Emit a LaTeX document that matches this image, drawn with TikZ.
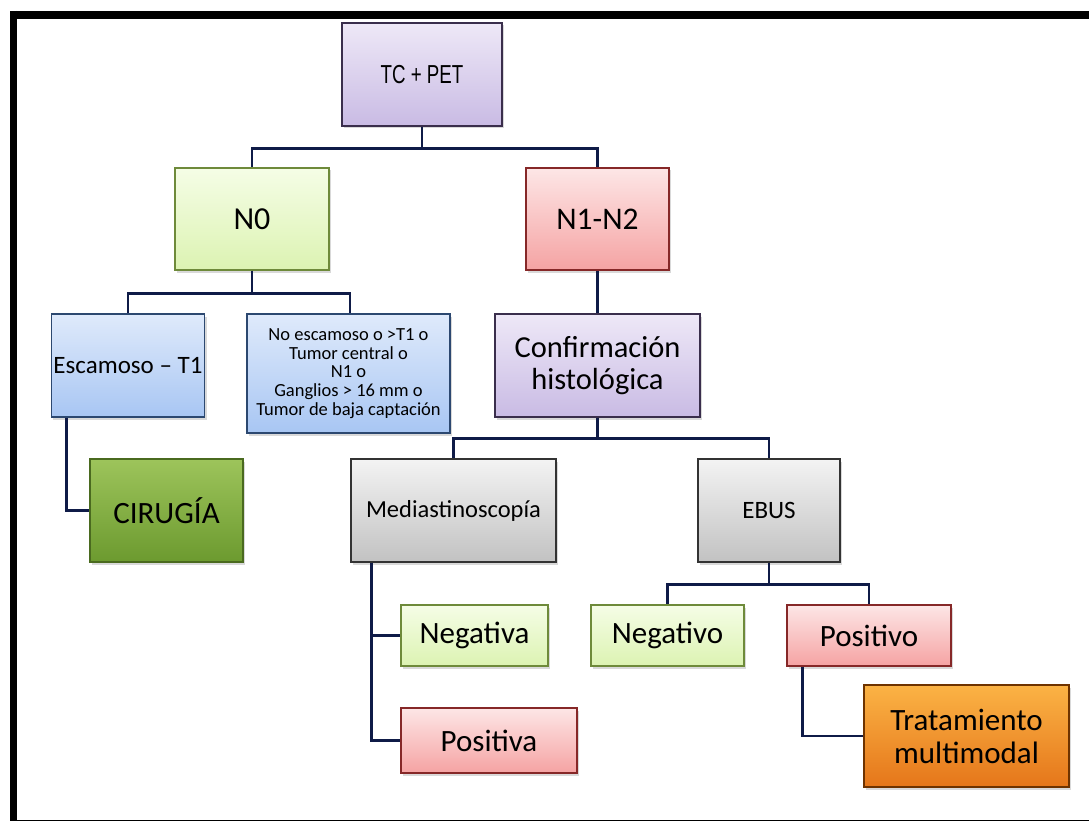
\documentclass[tikz,border=0pt]{standalone}
\usepackage{fontspec}
\setmainfont{Carlito}
\newfontfamily\narrowfont{Liberation Sans}
\usetikzlibrary{shadows}

\definecolor{linkblue}{HTML}{0F1B47}
\definecolor{lilatop}{HTML}{EEE8F7}
\definecolor{lilabot}{HTML}{C9BBE4}
\definecolor{lilaline}{HTML}{3A2E4C}
\definecolor{verdetop}{HTML}{F5FDE6}
\definecolor{verdebot}{HTML}{DCF3B2}
\definecolor{verdeline}{HTML}{6E8A3A}
\definecolor{rojotop}{HTML}{FDE6E6}
\definecolor{rojobot}{HTML}{F5A3A3}
\definecolor{rojoline}{HTML}{862828}
\definecolor{azultop}{HTML}{DFEAFB}
\definecolor{azulbot}{HTML}{A8C6F3}
\definecolor{azulline}{HTML}{2C4870}
\definecolor{cirtop}{HTML}{9DC45B}
\definecolor{cirbot}{HTML}{6C9A2F}
\definecolor{cirline}{HTML}{4A6A1F}
\definecolor{gristop}{HTML}{F3F3F3}
\definecolor{grisbot}{HTML}{C2C2C2}
\definecolor{grisline}{HTML}{333333}
\definecolor{naranjatop}{HTML}{FBB345}
\definecolor{naranjabot}{HTML}{E5761A}
\definecolor{naranjaline}{HTML}{6E3300}

\tikzset{
	box/.style={line width=1.4pt, inner sep=2pt, align=center, text=black,
		drop shadow={shadow xshift=2pt, shadow yshift=-2.5pt, opacity=0.3}},
	lila/.style={box, draw=lilaline, top color=lilatop, bottom color=lilabot},
	verde/.style={box, draw=verdeline, top color=verdetop, bottom color=verdebot},
	rojo/.style={box, draw=rojoline, top color=rojotop, bottom color=rojobot},
	azul/.style={box, draw=azulline, top color=azultop, bottom color=azulbot},
	cir/.style={box, draw=cirline, top color=cirtop, bottom color=cirbot},
	gris/.style={box, draw=grisline, top color=gristop, bottom color=grisbot},
	naranja/.style={box, draw=naranjaline, top color=naranjatop, bottom color=naranjabot},
	link/.style={draw=linkblue, line width=2.6pt},
}

\begin{document}
\begin{tikzpicture}[x=1pt, y=-1pt]
		\useasboundingbox (0,0) rectangle (1089,821);
		
		% marco
		\draw[line width=8pt] (10,15) -- (1089,15);
		\draw[line width=7.3pt] (13.7,11) -- (13.7,821);
		\draw[line width=1pt] (10,820.5) -- (1089,820.5);
		
		\node (tc) at (422,74.5) [lila, minimum width=160pt, minimum height=103pt] {\narrowfont\fontsize{26}{30}\selectfont\scalebox{0.72}[1]{TC + PET}};
		
		\node (nzero) at (252,219) [verde, minimum width=154pt, minimum height=102pt, font=\fontsize{32}{34}\selectfont] {N0};
		\node (nuno) at (597.5,219) [rojo, minimum width=143pt, minimum height=102pt, font=\fontsize{31.5}{34}\selectfont] {N1-N2};
		
		\node (esc) at (128,365.5) [azul, minimum width=152pt, minimum height=103pt, font=\fontsize{25}{28}\selectfont] {Escamoso -- T1};
		\node (noesc) at (348.5,373.5) [azul, minimum width=203pt, minimum height=119pt, font=\fontsize{18.5}{18.8}\selectfont] {No escamoso o >T1 o\\Tumor central o\\N1 o\\Ganglios > 16 mm o\\Tumor de baja captación};
		\node (conf) at (597.5,365.5) [lila, minimum width=205pt, minimum height=103pt, font=\fontsize{30.5}{31.5}\selectfont] {Confirmación\\histológica};
		
		\node (cir) at (166.5,510.5) [cir, minimum width=153pt, minimum height=103pt, font=\fontsize{31}{33}\selectfont] {CIRUGÍA};
		\node (med) at (453.5,510.5) [gris, minimum width=205pt, minimum height=103pt, font=\fontsize{24.5}{27}\selectfont] {Mediastinoscopía};
		\node (ebus) at (769,510.5) [gris, minimum width=142pt, minimum height=103pt, font=\fontsize{25}{27}\selectfont] {EBUS};
		
		\node (negativa) at (474.5,635.5) [verde, minimum width=147pt, minimum height=61pt, font=\fontsize{31}{33}\selectfont] {Negativa};
		\node (positiva) at (489,740.5) [rojo, minimum width=176pt, minimum height=65pt, font=\fontsize{31}{33}\selectfont] {Positiva};
		\node (negativo) at (667.5,635.5) [verde, minimum width=153pt, minimum height=61pt, font=\fontsize{31}{33}\selectfont] {Negativo};
		\node (positivo) at (869,635.5) [rojo, minimum width=164pt, minimum height=61pt, font=\fontsize{31}{33}\selectfont] {Positivo};
		\node (trat) at (966.5,736) [naranja, minimum width=205pt, minimum height=102pt, font=\fontsize{31}{33}\selectfont] {Tratamiento\\multimodal};
		
		% conectores
		\draw[link] (tc.south) -- ++(0,22) -| (nzero.north);
		\draw[link] (tc.south) -- ++(0,22) -| (nuno.north);
		\draw[link] (nzero.south) -- ++(0,23) -| (esc.north);
		\draw[link] (nzero.south) -- ++(0,23) -| ([xshift=1.5pt]noesc.north);
		\draw[link] (nuno.south) -- (conf.north);
		\draw[link] ([xshift=16pt]esc.south west) |- (cir.west);
		\draw[link] (conf.south) -- ++(0,21) -| (med.north);
		\draw[link] (conf.south) -- ++(0,21) -| (ebus.north);
		\draw[link] ([xshift=21pt]med.south west) |- (negativa.west);
		\draw[link] ([xshift=21pt]med.south west) |- (positiva.west);
		\draw[link] (ebus.south) -- ++(0,22) -| (negativo.north);
		\draw[link] (ebus.south) -- ++(0,22) -| (positivo.north);
		\draw[link] ([xshift=16pt]positivo.south west) |- (trat.west);
		
	\end{tikzpicture}
\end{document}
